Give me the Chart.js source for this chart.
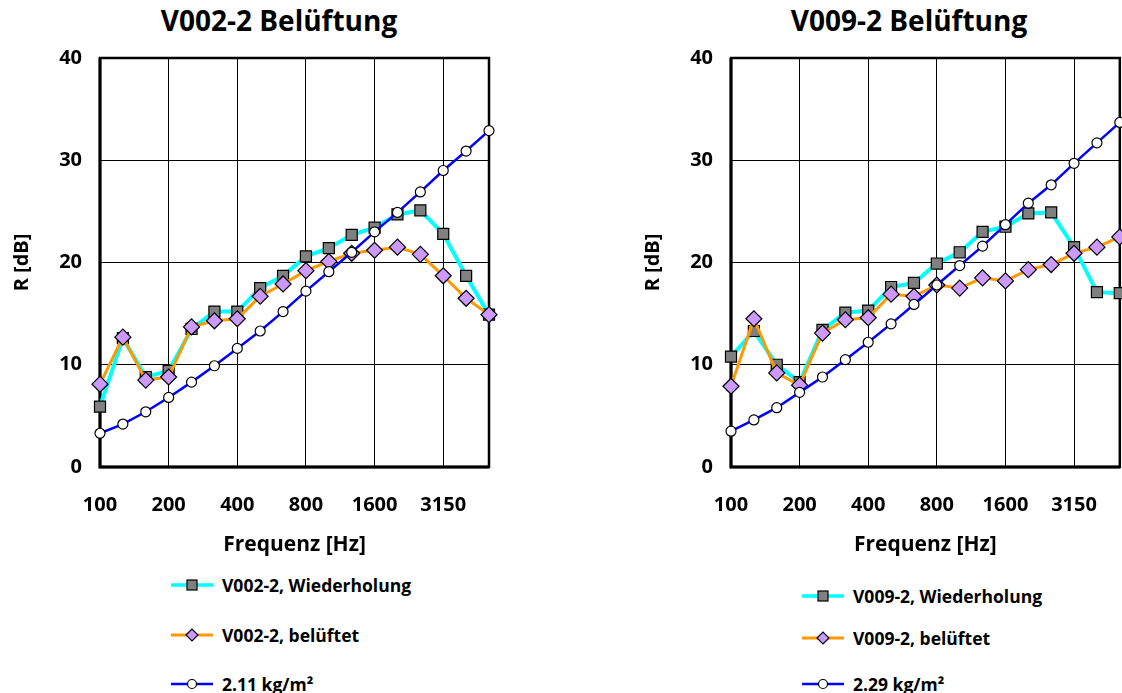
<!DOCTYPE html>
<html>
<head>
<meta charset="utf-8">
<script src="https://cdn.jsdelivr.net/npm/chart.js@4.4.1/dist/chart.umd.min.js"></script>
<style>
  body { margin: 0; background: #fff; width: 1122px; height: 693px; overflow: hidden; position: relative;
         font-family: 'Open Sans', sans-serif; font-weight: bold; color: #000; }
  .box { position: absolute; top: 0; height: 567px; }
  .title { position: absolute; top: 1px; font-size: 28px; white-space: nowrap; transform: translateX(-50%); }
  .leg { position: absolute; font-size: 17.5px; white-space: nowrap; display: flex; align-items: center; height: 22px; }
  .leg svg { margin-right: 9px; }
</style>
</head>
<body>
<div class="title" style="left:279px">V002-2 Belüftung</div>
<div class="title" style="left:909px">V009-2 Belüftung</div>
<div class="box" style="left:0; width:500px"><canvas id="left"></canvas></div>
<div class="box" style="left:631px; width:498px"><canvas id="right"></canvas></div>
<div id="legLeft"></div>
<div id="legRight"></div>
<script>
const freqs = ['100','125','160','200','250','315','400','500','630','800','1000','1250','1600','2000','2500','3150','4000','5000'];
const shownTicks = ['100','200','400','800','1600','3150'];

// V002-2
const v002Wdh = [5.9, 12.6, 8.8, 9.4, 13.5, 15.2, 15.2, 17.5, 18.7, 20.6, 21.4, 22.7, 23.4, 24.7, 25.1, 22.8, 18.7, 14.9];
const v002Bel = [8.1, 12.7, 8.5, 8.8, 13.7, 14.3, 14.5, 16.7, 17.9, 19.2, 20.1, 20.9, 21.2, 21.5, 20.8, 18.7, 16.5, 14.9];
const mass211 = [3.3, 4.2, 5.4, 6.8, 8.3, 9.9, 11.6, 13.3, 15.2, 17.2, 19.1, 21.0, 23.0, 24.9, 26.9, 29.0, 30.9, 32.9];

// V009-2
const v009Wdh = [10.8, 13.3, 10.0, 8.3, 13.4, 15.1, 15.3, 17.6, 18.0, 19.9, 21.0, 23.0, 23.5, 24.8, 24.9, 21.5, 17.1, 17.0];
const v009Bel = [7.9, 14.5, 9.2, 8.0, 13.1, 14.4, 14.6, 16.9, 16.7, 17.8, 17.5, 18.5, 18.2, 19.3, 19.8, 20.9, 21.5, 22.5];
const mass229 = [3.5, 4.6, 5.8, 7.3, 8.8, 10.5, 12.2, 14.0, 15.9, 17.8, 19.7, 21.6, 23.7, 25.8, 27.6, 29.7, 31.7, 33.7];

const FONT = "'Open Sans', sans-serif";

const styles = {
  wdh: { borderColor: '#00ffff', borderWidth: 4, pointStyle: 'rect', pointRadius: 7.8, pointBackgroundColor: '#808080', order: 3 },
  bel: { borderColor: '#ff9900', borderWidth: 3, pointStyle: 'rectRot', pointRadius: 8, pointBackgroundColor: '#cc99ff', order: 2 },
  mass: { borderColor: '#0000ff', borderWidth: 2.5, pointStyle: 'circle', pointRadius: 5, pointBackgroundColor: '#ffffff', order: 1 }
};

// thick frame around the plot area, under the data
const framePlugin = {
  id: 'frame',
  beforeDatasetsDraw(chart) {
    const { ctx, chartArea: a } = chart;
    ctx.save();
    ctx.strokeStyle = '#000';
    ctx.lineWidth = 2.5;
    ctx.strokeRect(a.left, a.top, a.right - a.left, a.bottom - a.top);
    ctx.lineWidth = 3;
    ctx.beginPath();
    ctx.moveTo(a.left, a.top);
    ctx.lineTo(a.left, a.bottom);
    ctx.lineTo(a.right, a.bottom);
    ctx.stroke();
    ctx.restore();
  }
};

function makeChart(id, series, padRight) {
  const ds = series.map(s => Object.assign({
    label: s.label,
    data: s.data,
    pointBorderColor: '#000',
    pointBorderWidth: 1.2,
    tension: 0,
    fill: false
  }, styles[s.kind]));

  return new Chart(document.getElementById(id), {
    type: 'line',
    data: { labels: freqs, datasets: ds },
    options: {
      responsive: true,
      maintainAspectRatio: false,
      animation: false,
      layout: { padding: { left: 0, right: padRight, top: 58, bottom: 0 } },
      plugins: { legend: { display: false }, tooltip: { enabled: false } },
      scales: {
        x: {
          grid: {
            color: ctx => (ctx.index % 3 === 0 ? '#000' : 'rgba(0,0,0,0)'),
            lineWidth: 1,
            drawTicks: true,
            tickLength: 24,
            tickColor: 'rgba(0,0,0,0)'
          },
          border: { display: false },
          ticks: {
            autoSkip: false,
            maxRotation: 0,
            padding: 2,
            color: '#000',
            font: { family: FONT, size: 20, weight: 'bold' },
            callback: function (v, i) {
              const l = freqs[i];
              return shownTicks.includes(l) ? l : '';
            }
          },
          title: {
            display: true,
            text: 'Frequenz [Hz]',
            color: '#000',
            font: { family: FONT, size: 21, weight: 'bold' },
            padding: { top: 0, bottom: 9 }
          },
          afterFit: s => { s.height = 100; }
        },
        y: {
          min: 0,
          max: 40,
          grid: { color: '#000', lineWidth: 1, drawTicks: false },
          border: { display: false },
          ticks: {
            stepSize: 10,
            padding: 18,
            color: '#000',
            font: { family: FONT, size: 20, weight: 'bold' }
          },
          title: {
            display: true,
            text: 'R [dB]',
            color: '#000',
            font: { family: FONT, size: 20, weight: 'bold' },
            padding: { top: 10, bottom: 0 }
          },
          afterFit: s => { s.width = 100; }
        }
      }
    },
    plugins: [framePlugin]
  });
}

const leftChart = makeChart('left', [
  { label: 'V002-2, Wiederholung', data: v002Wdh, kind: 'wdh' },
  { label: 'V002-2, belüftet', data: v002Bel, kind: 'bel' },
  { label: '2.11 kg/m²', data: mass211, kind: 'mass' }
], 11);

const rightChart = makeChart('right', [
  { label: 'V009-2, Wiederholung', data: v009Wdh, kind: 'wdh' },
  { label: 'V009-2, belüftet', data: v009Bel, kind: 'bel' },
  { label: '2.29 kg/m²', data: mass229, kind: 'mass' }
], 2);

// legend below each chart, built from the chart datasets
function markerSvg(d) {
  const c = 21, m = 8;
  let mark;
  if (d.pointStyle === 'rect') {
    mark = `<rect x="${c - 5}" y="${m - 5}" width="10" height="10" fill="${d.pointBackgroundColor}" stroke="#000" stroke-width="1.2"/>`;
  } else if (d.pointStyle === 'rectRot') {
    mark = `<polygon points="${c - 6},${m} ${c},${m - 6} ${c + 6},${m} ${c},${m + 6}" fill="${d.pointBackgroundColor}" stroke="#000" stroke-width="1.2"/>`;
  } else {
    mark = `<circle cx="${c}" cy="${m}" r="4.5" fill="${d.pointBackgroundColor}" stroke="#000" stroke-width="1.2"/>`;
  }
  return `<svg width="42" height="16"><line x1="0" y1="${m}" x2="42" y2="${m}" stroke="${d.borderColor}" stroke-width="${Math.min(d.borderWidth, 3.5)}"/>${mark}</svg>`;
}

function buildLegend(el, chart, left, rows) {
  el.innerHTML = chart.data.datasets.map((d, i) =>
    `<div class="leg" style="left:${left}px; top:${rows[i] - 11}px">${markerSvg(d)}<span>${d.label}</span></div>`
  ).join('');
}

buildLegend(document.getElementById('legLeft'), leftChart, 171, [585, 635, 684]);
buildLegend(document.getElementById('legRight'), rightChart, 802, [596, 638, 684]);
</script>
</body>
</html>
